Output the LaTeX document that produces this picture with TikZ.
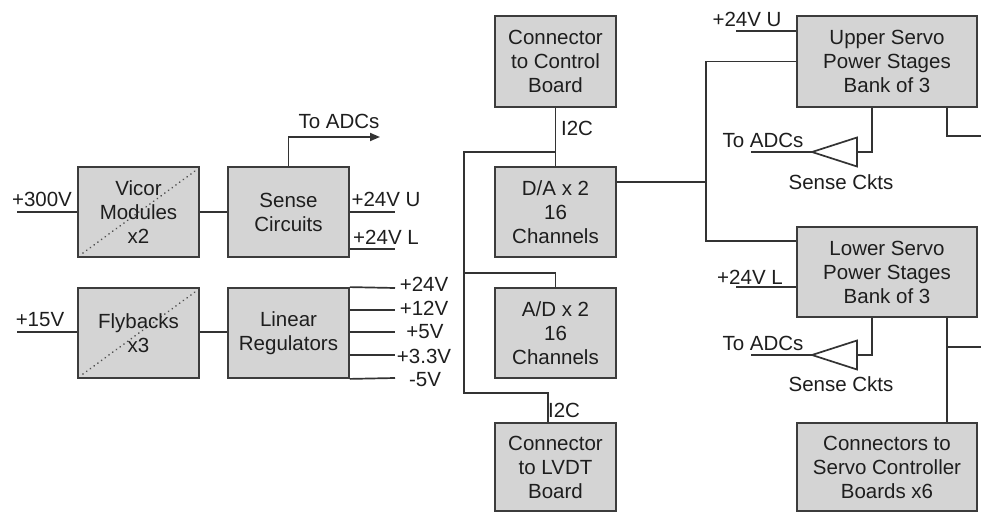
\documentclass[tikz,border=0pt]{standalone}
\usepackage{fontspec}
\setmainfont{Liberation Sans}
\usetikzlibrary{arrows.meta,calc}
\definecolor{boxfill}{HTML}{D4D4D4}
\definecolor{boxline}{HTML}{3C3C3C}
\definecolor{wirecol}{HTML}{333333}
\definecolor{txt}{HTML}{1E1E1E}
\begin{document}
\begin{tikzpicture}[x=1pt,y=-1pt,
  every node/.style={font=\fontsize{20.5}{24}\selectfont, text=txt},
  blk/.style={draw=boxline, fill=boxfill, line width=1.8pt, align=center, inner sep=0pt, minimum height=90pt},
  sblk/.style={blk, minimum width=121pt},
  wblk/.style={blk, minimum width=180pt},
  diag/.style={path picture={\draw[draw=boxline!90, line width=1.9pt, dash pattern=on 0.01pt off 4.6pt, line cap=round] ([shift={(5pt,4pt)}]path picture bounding box.south west) -- ([shift={(-4pt,-4pt)}]path picture bounding box.north east);}},
  wire/.style={draw=wirecol, line width=1.7pt},
  lbl/.style={inner sep=0pt},
]
\useasboundingbox[fill=white] (0,0) rectangle (981,513);

% blocks
\node[sblk, diag] (vicor) at (138.5,212) {Vicor\\Modules\\x2};
\node[sblk] (sense) at (288.5,212) {Sense\\Circuits};
\node[sblk, diag] (fly) at (138.5,333) {Flybacks\\x3};
\node[sblk] (linreg) at (288.5,333) {Linear\\Regulators};
\node[sblk, minimum height=91pt] (ctrl) at (555.5,61.5) {Connector\\to Control\\Board};
\node[sblk] (da) at (555.5,212) {D/A x 2\\16\\Channels};
\node[sblk] (ad) at (555.5,333) {A/D x 2\\16\\Channels};
\node[sblk, minimum height=88pt] (lvdt) at (555.5,467) {Connector\\to LVDT\\Board};
\node[wblk, minimum height=91pt] (upper) at (887,61.5) {Upper Servo\\Power Stages\\Bank of 3};
\node[wblk] (lower) at (887,272) {Lower Servo\\Power Stages\\Bank of 3};
\node[wblk, minimum height=88pt] (sctl) at (887,467) {Connectors to\\Servo Controller\\Boards x6};

% free ends
\coordinate (in300) at (17,212);
\coordinate (in15) at (17,332);
\coordinate (adcA) at (380,137);
\coordinate (o24U) at (395,212);
\coordinate (o24L) at (395,249);
\coordinate (r24) at (395,288);
\coordinate (r12) at (395,310);
\coordinate (r5) at (395,332);
\coordinate (r33) at (395,355);
\coordinate (rm5) at (395,378);

% left power section
\draw[wire] (in300) -- (vicor.west);
\draw[wire] (vicor) -- (sense);
\draw[wire,-{Triangle[length=10pt,width=8pt]}] (sense.north) |- (adcA);
\draw[wire] (sense.east) -- (o24U);
\draw[wire] (sense.east |- o24L) -- (o24L);
\draw[wire] (in15) -- (fly.west |- in15);
\draw[wire] (fly.east |- in15) -- (linreg.west |- in15);
\draw[wire] (linreg.north east) -- (r24);
\draw[wire] (linreg.east |- r12) -- (r12);
\draw[wire] (linreg.east |- r5) -- (r5);
\draw[wire] (linreg.east |- r33) -- (r33);
\draw[wire] (linreg.south east) -- (rm5);

\node[lbl] at (42,199) {+300V};
\node[lbl] at (339,121) {To ADCs};
\node[lbl] at (386,199) {+24V U};
\node[lbl] at (386,237) {+24V L};
\node[lbl] at (40,320) {+15V};
\node[lbl] at (424,284) {+24V};
\node[lbl] at (424,308) {+12V};
\node[lbl] at (425,332) {+5V};
\node[lbl] at (424,356) {+3.3V};
\node[lbl] at (425,380) {-5V};

% middle converters
\coordinate (j1) at (555.5,152);
\coordinate (busL) at (464,393);
\coordinate (j3) at (464,273);
\draw[wire] (ctrl) -- (da);
\draw[wire] (j1) -| (busL) -| ([xshift=-7.5pt]lvdt.north);
\draw[wire] (j3) -| (ad.north);
\node[lbl] at (577,128) {I2C};
\node[lbl] at (564,410) {I2C};

% servo section
\coordinate (j2) at (706,182);
\draw[wire] ([yshift=30pt]da.east) -- (j2);
\draw[wire] (upper.west) -| (j2) |- ([yshift=31pt]lower.west);

\coordinate (u24) at (736,31);
\draw[wire] (u24) -- (upper.west |- u24);
\node[lbl] at (747,19) {+24V U};

\coordinate (tri1) at (812,152);
\coordinate (tb1) at (857,152);
\coordinate (adcU) at (751,152);
\draw[wire, line join=miter] (tri1) -- ([yshift=14.5pt]tb1) -- ([yshift=-14.5pt]tb1) -- cycle;
\draw[wire] ([xshift=-15pt]upper.south) |- (tb1);
\draw[wire] (tri1) -- (adcU);
\node[lbl] at (763,140) {To ADCs};
\node[lbl] at (841,182) {Sense Ckts};
\coordinate (outU) at (981,136);
\draw[wire] ([xshift=60pt]upper.south) |- (outU);

\coordinate (l24) at (736,287);
\draw[wire] (l24) -- (lower.west |- l24);
\node[lbl] at (750,277) {+24V L};

\coordinate (tri2) at (812,355);
\coordinate (tb2) at (857,355);
\coordinate (adcL) at (751,355);
\draw[wire, line join=miter] (tri2) -- ([yshift=14.5pt]tb2) -- ([yshift=-14.5pt]tb2) -- cycle;
\draw[wire] ([xshift=-15pt]lower.south) |- (tb2);
\draw[wire] (tri2) -- (adcL);
\node[lbl] at (763,343) {To ADCs};
\node[lbl] at (841,384) {Sense Ckts};
\coordinate (outL) at (981,347);
\draw[wire] ([xshift=60pt]lower.south) -- ([xshift=60pt]sctl.north);
\draw[wire] ([xshift=60pt]lower.south |- outL) -- (outL);
\end{tikzpicture}
\end{document}
